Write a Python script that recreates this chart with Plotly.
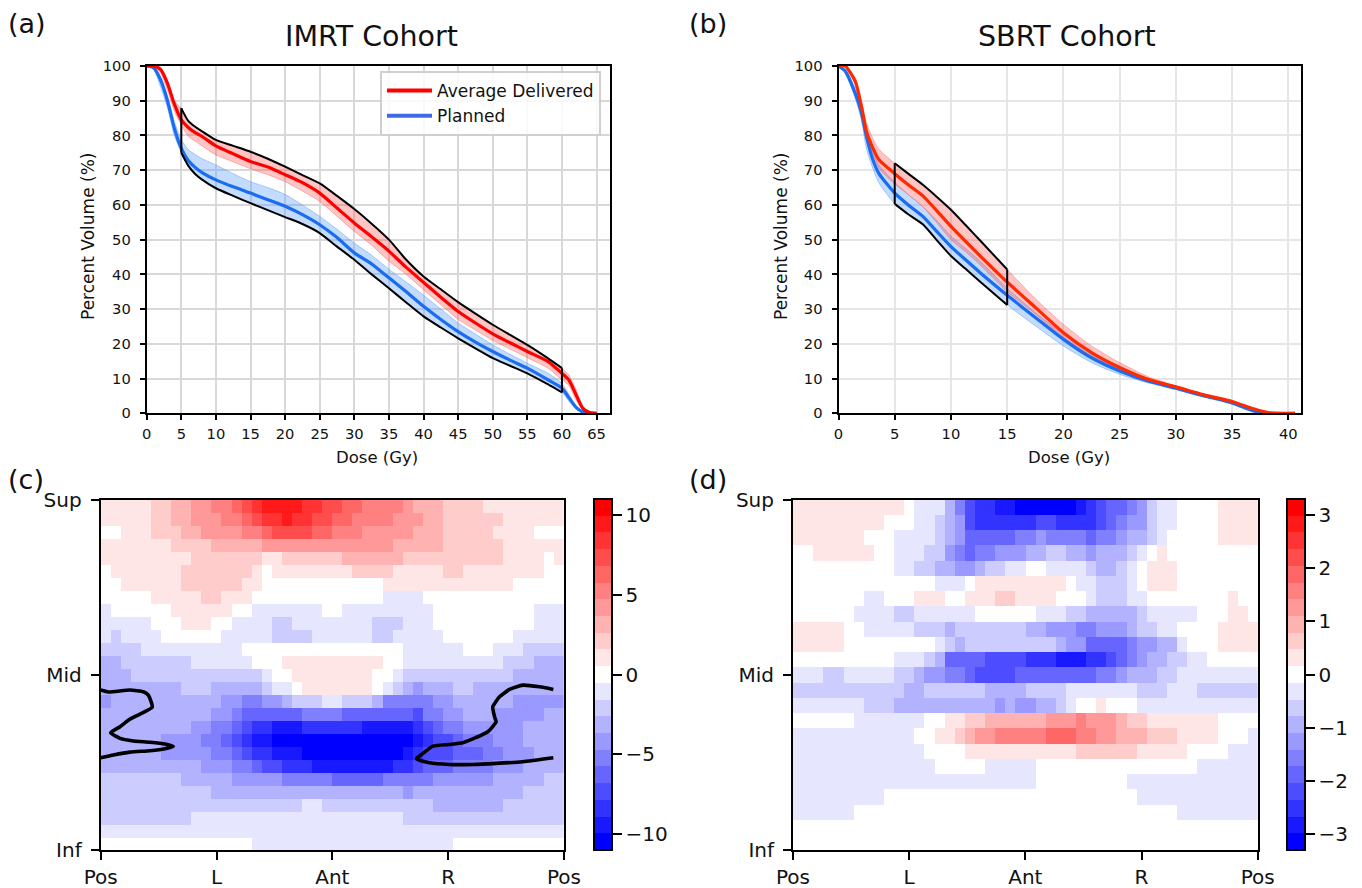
import plotly.graph_objects as go

W, H = 1362, 888

# ---------- Dose-volume curves: IMRT ----------
imrt_dose = [0,1,2,3,4,5,6,7,8,10,12.5,15,17.5,20,22.5,25,27.5,30,32.5,35,37.5,40,42.5,45,47.5,50,52.5,55,58,60,61,62,63,64,65]
imrt_del_mean = [100,100,99,95,89,84.5,82.3,80.8,79.7,77,74.7,72.5,70.9,68.7,66.4,63.4,59.1,54.8,50.8,46.7,42,37.7,33.4,29.3,26,22.9,20.3,17.8,14.9,11.5,9.6,5.5,1.5,0.2,0]
imrt_del_up = [100,100,99.5,96,90,87.8,84.2,82.5,81.2,78.7,77,75.3,73.3,71,68.6,66.2,62.6,58.8,54.6,50,44.2,39.4,35.7,32,28.7,25.5,22.6,19.7,15.8,13,11,7,2,0.3,0]
imrt_del_low = [100,100,98,93,87,83,79.8,78.3,77,74.4,72.4,70.4,68.7,66.7,64,61,56.7,52.4,48.4,43.8,40,35.6,31.3,27,24,21,18.5,16,13,9.6,8,4,1,0.1,0]
imrt_plan_mean = [100,99.5,96,90,82,76.3,72.8,70.8,69.3,67.2,65.2,63.4,61.5,59.6,57.2,54.3,50.6,46.2,43,39,35,30.8,27,23.5,20.5,17.8,15.3,13,9.6,7.2,4.5,1.8,0.4,0,0]
imrt_plan_up = [100,99.8,97,91.5,84,78.7,76,74.5,73.3,71.5,69,66.7,65,63,60,56.7,53,49,45.5,41.5,37.8,34,30,26,22.8,19.7,17,14.4,11.5,8.6,5.5,2.2,0.5,0,0]
imrt_plan_low = [100,99,94,88,80,75,71.3,68.9,67.3,64.8,62.6,60.5,58.5,56.5,54.5,51.9,48,44.2,40,36,31.9,27.9,24.7,21.6,18.7,15.9,13.7,11.5,8.3,6,3.5,1.4,0.3,0,0]

# ---------- Dose-volume curves: SBRT ----------
sbrt_dose = [0,0.6,1.5,2,2.5,3,3.6,5,6.2,7.5,8.75,10,11.3,12.7,15,17.5,20,22.5,25,27.5,30,32.5,35,36.9,38.2,40.6]
sbrt_del_mean = [100,100,95.5,89,81,76.8,73,69,65.8,62.6,58.3,53.8,49.5,45,37.8,30.5,23.2,17.5,13.2,9.8,7.6,5.3,3.4,1.3,0.2,0]
sbrt_del_up = [100,100,96.5,90.5,83.5,79.5,76,72,69,65.8,62.3,58.6,54.2,49.4,41.4,33,25.6,19.4,14.6,10.6,7.9,5.5,3.6,1.5,0.3,0]
sbrt_del_low = [100,99.8,94.5,87.5,78.5,75,70.5,66,63,59.5,54.8,50,46.5,42.4,35,28.6,21.8,16.5,12.5,9.3,7.4,5.1,3.2,1.1,0.1,0]
sbrt_plan_mean = [100,98.5,92,87,79.5,73.5,69,63.4,60,56.7,52.3,48,44.2,40.2,34,27.6,21.3,16,12.2,9.3,7.2,5,3,0.7,0,0]
sbrt_plan_up = [100,99,93.5,89,82,76,71.5,66.5,63,59.5,55.5,51,47.5,43.5,36,29,22.8,17,12.9,9.6,7.4,5.1,3.1,0.8,0,0]
sbrt_plan_low = [100,98,90.5,85,76,71,66.3,60.3,57.3,54.4,49.8,45.3,41.6,37.6,31.2,25.2,19.4,14.6,11.2,8.8,6.9,4.8,2.9,0.6,0,0]

# ---------- Difference maps: per row, runs of (colour level, end column) ----------
imrt_map_rows = [
 [(1,5),(2,7),(3,9),(4,11),(5,13),(6,14),(7,15),(8,16),(9,20),(8,22),(7,24),(6,26),(5,30),(4,31),(3,34),(2,38),(1,46)],
 [(1,5),(2,7),(3,9),(4,12),(5,14),(6,15),(7,16),(8,18),(9,19),(8,21),(7,23),(6,25),(5,29),(4,32),(3,34),(2,40),(1,46)],
 [(0,2),(1,5),(2,8),(3,10),(4,14),(5,16),(6,17),(7,21),(6,23),(5,26),(4,31),(3,34),(2,39),(1,43),(0,46)],
 [(1,7),(2,11),(3,16),(4,29),(3,34),(2,40),(1,46)],
 [(1,9),(2,16),(1,18),(2,24),(3,30),(2,40),(1,44),(0,45),(1,46)],
 [(0,1),(1,8),(2,15),(1,16),(0,17),(1,25),(2,29),(1,34),(2,36),(1,44),(0,46)],
 [(0,2),(1,8),(2,14),(1,16),(0,28),(1,41),(0,46)],
 [(0,5),(1,10),(2,12),(1,15),(0,28),(-1,32),(0,46)],
 [(-1,1),(0,7),(1,13),(0,15),(-1,22),(0,24),(-1,33),(0,43),(-1,46)],
 [(-1,5),(0,8),(1,11),(0,13),(-1,17),(-2,19),(-1,27),(-2,30),(-1,33),(0,43),(-1,46)],
 [(-1,1),(-2,2),(-1,6),(0,12),(-1,17),(-2,21),(-1,27),(-2,29),(-1,34),(0,41),(-1,46)],
 [(-2,4),(-1,14),(0,30),(-1,36),(0,39),(-1,42),(-2,46)],
 [(-3,2),(-2,9),(-1,15),(0,18),(1,28),(0,30),(-1,40),(-2,43),(-3,46)],
 [(-3,3),(-2,16),(-1,17),(0,19),(1,27),(0,29),(-1,30),(-2,41),(-3,46)],
 [(-3,8),(-2,11),(-3,16),(-2,17),(-1,19),(0,20),(1,27),(0,28),(-1,29),(-2,30),(-3,31),(-4,32),(-3,35),(-2,37),(-3,46)],
 [(-4,1),(-3,12),(-4,14),(-5,16),(-4,18),(-3,19),(-2,22),(-1,24),(-2,27),(-3,28),(-5,33),(-4,35),(-3,41),(-4,46)],
 [(-3,11),(-4,13),(-5,14),(-6,20),(-5,24),(-6,31),(-7,32),(-5,34),(-4,36),(-3,39),(-4,44),(-3,46)],
 [(-3,9),(-4,11),(-5,13),(-6,14),(-7,15),(-8,17),(-9,20),(-8,26),(-9,31),(-8,32),(-7,33),(-6,34),(-5,36),(-4,42),(-3,46)],
 [(-3,6),(-4,10),(-5,12),(-6,13),(-7,14),(-8,15),(-9,17),(-10,31),(-9,32),(-8,33),(-7,35),(-6,36),(-5,39),(-4,42),(-3,46)],
 [(-3,6),(-4,11),(-5,13),(-6,14),(-7,15),(-8,17),(-9,20),(-10,30),(-9,31),(-8,32),(-7,35),(-6,38),(-5,40),(-4,43),(-3,46)],
 [(-3,10),(-4,13),(-5,15),(-6,16),(-7,18),(-8,21),(-9,29),(-8,31),(-7,32),(-6,35),(-5,39),(-4,42),(-3,46)],
 [(-2,8),(-3,13),(-4,18),(-5,23),(-6,28),(-5,33),(-4,39),(-3,44),(-2,46)],
 [(-2,11),(-3,30),(-4,31),(-3,42),(-2,46)],
 [(-2,20),(-1,22),(-2,33),(-3,40),(-2,46)],
 [(-2,9),(-1,30),(-2,46)],
 [(-1,46)],
 [(0,15),(-1,35),(0,46)],
]
sbrt_map_rows = [
 [(1,11),(0,12),(-1,15),(-3,16),(-5,17),(-7,18),(-8,20),(-9,22),(-10,28),(-9,29),(-8,30),(-7,31),(-6,33),(-5,34),(-4,35),(-2,36),(-1,38),(0,42),(1,46)],
 [(1,9),(0,12),(-1,14),(-2,15),(-3,16),(-4,17),(-7,18),(-8,24),(-7,26),(-8,30),(-7,31),(-6,32),(-5,33),(-4,35),(-2,36),(-1,38),(0,42),(1,46)],
 [(1,7),(0,10),(-1,14),(-2,15),(-3,16),(-4,17),(-6,22),(-5,24),(-4,25),(-5,29),(-6,30),(-5,32),(-4,33),(-3,35),(-2,36),(-1,37),(0,42),(1,46)],
 [(0,2),(1,8),(0,10),(-1,13),(-2,15),(-4,16),(-5,17),(-6,18),(-5,20),(-4,23),(-3,25),(-2,27),(-3,29),(-4,30),(-3,33),(-2,34),(-1,35),(0,36),(1,37),(0,46)],
 [(0,10),(-1,12),(-2,14),(-3,16),(-4,18),(-3,19),(-2,21),(-1,23),(0,25),(-1,29),(-2,30),(-3,32),(-2,33),(-1,34),(0,35),(1,38),(0,46)],
 [(0,14),(-1,17),(0,18),(1,27),(0,28),(-1,30),(-2,33),(-1,34),(0,35),(1,38),(0,46)],
 [(0,7),(-1,9),(0,12),(1,15),(0,17),(1,20),(2,22),(1,26),(0,29),(-1,30),(-2,33),(-1,35),(0,43),(1,44),(0,46)],
 [(0,6),(-1,10),(-2,12),(-1,18),(0,24),(-1,27),(-2,29),(-3,34),(-2,35),(-1,40),(0,43),(1,45),(0,46)],
 [(1,5),(0,7),(-1,12),(-2,15),(-3,16),(-2,23),(-3,25),(-4,28),(-5,30),(-4,33),(-3,34),(-2,36),(-1,38),(0,42),(1,46)],
 [(1,5),(0,14),(-1,15),(-2,16),(-3,17),(-2,26),(-3,27),(-4,29),(-6,33),(-5,34),(-4,36),(-3,38),(-1,39),(0,42),(1,46)],
 [(0,10),(-1,13),(-2,14),(-3,15),(-6,19),(-7,23),(-8,26),(-9,29),(-8,31),(-7,32),(-6,33),(-5,34),(-4,35),(-3,37),(-2,39),(-1,41),(0,46)],
 [(-1,3),(-2,5),(-1,10),(-2,12),(-3,13),(-4,15),(-5,17),(-6,18),(-7,22),(-6,30),(-5,32),(-4,33),(-3,36),(-2,38),(-1,46)],
 [(-2,11),(-3,13),(-2,19),(-3,23),(-2,27),(-1,34),(-2,37),(-1,40),(-2,46)],
 [(-1,7),(-2,10),(-3,20),(-4,21),(-3,22),(-4,24),(-3,26),(-2,27),(-1,28),(0,30),(1,31),(0,34),(-1,46)],
 [(0,6),(-1,13),(0,15),(1,17),(2,19),(3,25),(4,28),(5,29),(4,32),(3,33),(2,35),(1,42),(0,46)],
 [(-1,12),(0,14),(1,16),(2,17),(3,18),(4,20),(5,25),(6,28),(5,30),(4,32),(3,35),(2,38),(1,42),(0,45),(-1,46)],
 [(-1,13),(0,17),(1,28),(2,34),(1,39),(0,43),(-1,46)],
 [(-1,14),(0,19),(-1,24),(0,40),(-1,46)],
 [(-1,24),(0,33),(-1,46)],
 [(-1,9),(0,34),(-1,46)],
 [(-1,6),(0,38),(-1,46)],
 [(0,46)],
 [(0,46)],
]
imrt_map_max = 11.0
sbrt_map_max = 3.3
n_levels = 21

# Significance contours on the IMRT map (column, row)
contour_left_col = [0,0.76,2.91,4.23,4.73,5.12,3.9,2.74,1.92,0.99,1.92,3.24,4.89,6.38,7.2,6.38,4.89,2.91,1.26,0]
contour_left_row = [14.68,14.83,14.68,14.81,15.07,16.0,16.53,17.0,17.5,17.97,18.4,18.6,18.7,18.84,19.02,19.2,19.35,19.46,19.68,19.89]
contour_right_col = [44.94,43.56,41.91,40.59,39.6,38.93,39.1,39.26,38.44,37.28,35.95,34.63,32.98,31.99,31.33,32.65,34.63,36.94,39.26,41.9,44.94]
contour_right_row = [14.63,14.43,14.3,14.63,15.2,15.97,16.73,17.12,17.89,18.33,18.74,18.87,19.0,19.56,19.97,20.28,20.41,20.41,20.33,20.2,19.89]

angle_labels = ["Pos", "L", "Ant", "R", "Pos"]
height_labels = ["Sup", "Mid", "Inf"]
FONT = "DejaVu Sans"


def expand(rows, vmax):
    step = vmax / (n_levels / 2)
    out = []
    for runs in rows:
        row, start = [], 0
        for level, end in runs:
            row += [level * step] * (end - start)
            start = end
        out.append(row)
    return out


def level_colour(k):
    f = 1 - abs(k) / 10
    v = round(255 * f)
    return f"rgb(255,{v},{v})" if k > 0 else f"rgb({v},{v},255)"


scale = []
for i in range(n_levels):
    c = level_colour(i - 10)
    scale += [[i / n_levels, c], [(i + 1) / n_levels, c]]

fig = go.Figure()


def px_x(p):
    return p / W


def px_y(p):
    return 1 - p / H


def smooth(colour, width):
    return dict(color=colour, width=width, shape="spline", smoothing=0.6)


def add_curves(x, dm, du, dl, pm, pu, pl, sel, red, i_start, i_end, legend):
    ax = dict(xaxis=f"x{sel}", yaxis=f"y{sel}", hoverinfo="skip")
    for up, low, fill, edge in [
        (pu, pl, "rgba(90,155,250,0.36)", "rgba(90,155,250,0.6)"),
        (du, dl, "rgba(255,60,60,0.30)", "rgba(255,90,90,0.5)"),
    ]:
        fig.add_trace(go.Scatter(x=x, y=low, mode="lines", line=smooth(edge, 0.8), showlegend=False, **ax))
        fig.add_trace(go.Scatter(x=x, y=up, mode="lines", line=smooth(edge, 0.8), fill="tonexty", fillcolor=fill, showlegend=False, **ax))
    fig.add_trace(go.Scatter(x=x, y=pm, mode="lines", name="Planned", line=smooth("#1a6cf0", 3.2), showlegend=False, **ax))
    fig.add_trace(go.Scatter(x=x, y=dm, mode="lines", name="Average Delivered", line=smooth(red, 3.2), showlegend=False, **ax))
    xs = x[i_start:i_end + 1]
    for ys in (du[i_start:i_end + 1], pl[i_start:i_end + 1]):
        fig.add_trace(go.Scatter(x=xs, y=ys, mode="lines", line=smooth("black", 2), showlegend=False, **ax))
    for i in (i_start, i_end):
        fig.add_trace(go.Scatter(x=[x[i], x[i]], y=[du[i], pl[i]], mode="lines", line=dict(color="black", width=2), showlegend=False, **ax))
    if legend:
        fig.add_trace(go.Scatter(x=[None], y=[None], mode="lines", name="Average Delivered", line=dict(color="#ff0000", width=4), xaxis=ax["xaxis"], yaxis=ax["yaxis"]))
        fig.add_trace(go.Scatter(x=[None], y=[None], mode="lines", name="Planned", line=dict(color="#4169e1", width=4), xaxis=ax["xaxis"], yaxis=ax["yaxis"]))


add_curves(imrt_dose, imrt_del_mean, imrt_del_up, imrt_del_low, imrt_plan_mean, imrt_plan_up, imrt_plan_low,
           "", "#ff0000", imrt_dose.index(5), imrt_dose.index(60), True)
add_curves(sbrt_dose, sbrt_del_mean, sbrt_del_up, sbrt_del_low, sbrt_plan_mean, sbrt_plan_up, sbrt_plan_low,
           "2", "#ff2a00", sbrt_dose.index(5), sbrt_dose.index(15), False)


def add_map(rows, vmax, sel, cb_left, ticks):
    z = expand(rows, vmax)
    nrow, ncol = len(z), len(z[0])
    fig.add_trace(go.Heatmap(
        z=z, x=[i + 0.5 for i in range(ncol)], y=[i + 0.5 for i in range(nrow)],
        xaxis=f"x{sel}", yaxis=f"y{sel}", zmin=-vmax, zmax=vmax, colorscale=scale, hoverinfo="skip",
        colorbar=dict(x=px_x(cb_left), xanchor="left", y=px_y(850), yanchor="bottom",
                      len=350.5 / H, lenmode="fraction", thickness=18, thicknessmode="pixels",
                      xpad=0, ypad=0, outlinecolor="black", outlinewidth=2,
                      ticks="outside", ticklen=9, tickwidth=1.5, tickcolor="black",
                      tickprefix="\u00a0",
                      tickvals=ticks, tickfont=dict(family=FONT, size=20, color="#111")),
    ))
    return nrow, ncol


nr3, nc3 = add_map(imrt_map_rows, imrt_map_max, "3", 593.5, [-10, -5, 0, 5, 10])
nr4, nc4 = add_map(sbrt_map_rows, sbrt_map_max, "4", 1287, [-3, -2, -1, 0, 1, 2, 3])

for cx, cy in [(contour_left_col, contour_left_row), (contour_right_col, contour_right_row)]:
    fig.add_trace(go.Scatter(x=cx, y=cy, mode="lines", line=dict(color="black", width=3.6, shape="spline", smoothing=0.5),
                             xaxis="x3", yaxis="y3", showlegend=False, hoverinfo="skip"))

spine = dict(showline=True, mirror=True, linecolor="black", linewidth=2, ticks="outside",
             tickwidth=1.5, tickcolor="black", zeroline=False)
dvh_tick = dict(family=FONT, size=14.7, color="#111")
map_tick = dict(family=FONT, size=20, color="#111")


def dvh_axes(xkey, ykey, left, right, xmax, grid):
    fig.update_layout({
        xkey: dict(domain=[px_x(left), px_x(right)], range=[0, xmax], dtick=5, tick0=0, showgrid=True, gridcolor=grid,
                   gridwidth=2, tickfont=dvh_tick, ticklen=5, ticklabelstandoff=1, anchor=ykey.replace("axis", ""), **spine),
        ykey: dict(domain=[px_y(413.3), px_y(66)], range=[0, 100], dtick=10, tick0=0, showgrid=True, gridcolor=grid,
                   gridwidth=2, tickfont=dvh_tick, ticklen=5, ticklabelstandoff=6, anchor=xkey.replace("axis", ""), **spine),
    })


dvh_axes("xaxis", "yaxis", 146.7, 609.7, 66.9, "#d8d8d8")
dvh_axes("xaxis2", "yaxis2", 838.5, 1300.7, 41.1, "#e6e6e6")


def map_axes(xkey, ykey, left, right, nrow, ncol):
    fig.update_layout({
        xkey: dict(domain=[px_x(left), px_x(right)], range=[0, ncol], tickvals=[ncol * i / 4 for i in range(5)],
                   ticktext=angle_labels, tickfont=map_tick, ticklen=8, showgrid=False, anchor=ykey.replace("axis", ""), **spine),
        ykey: dict(domain=[px_y(850), px_y(499.5)], range=[nrow, 0], tickvals=[0, nrow / 2, nrow],
                   ticktext=height_labels, tickfont=map_tick, ticklen=8, ticklabelstandoff=5, showgrid=False, anchor=xkey.replace("axis", ""), **spine),
    })


map_axes("xaxis3", "yaxis3", 100.7, 564, nr3, nc3)
map_axes("xaxis4", "yaxis4", 793, 1257.7, nr4, nc4)


def label(text, x, y, size, angle=0, anchor="center"):
    fig.add_annotation(text=text, x=px_x(x), y=px_y(y), xref="paper", yref="paper", showarrow=False,
                       xanchor=anchor, yanchor="middle", textangle=angle,
                       font=dict(family=FONT, size=size, color="#111"))


label("IMRT Cohort", 371, 36, 28.5)
label("SBRT Cohort", 1067, 36, 28.5)
label("(a)", 6, 24, 27, anchor="left")
label("(b)", 687, 24, 27, anchor="left")
label("(c)", 6, 479, 27, anchor="left")
label("(d)", 687, 479, 27, anchor="left")
label("Dose (Gy)", 377, 457, 16.5)
label("Dose (Gy)", 1069, 458, 16.5)
label("Percent Volume (%)", 88, 237, 17, angle=-90)
label("Percent Volume (%)", 781, 237, 17, angle=-90)

fig.update_layout(
    width=W, height=H, autosize=False, margin=dict(l=0, r=0, t=0, b=0, autoexpand=False),
    paper_bgcolor="white", plot_bgcolor="white", font=dict(family=FONT),
    legend=dict(x=px_x(380), y=px_y(71), xanchor="left", yanchor="top", bgcolor="rgba(255,255,255,0.85)",
                bordercolor="#cfcfcf", borderwidth=2, font=dict(family=FONT, size=17, color="#111"),
                itemwidth=45, tracegroupgap=0, traceorder="normal"),
)

fig.write_html("out.html", post_script="document.body.style.margin='0';", config={"displayModeBar": False})
